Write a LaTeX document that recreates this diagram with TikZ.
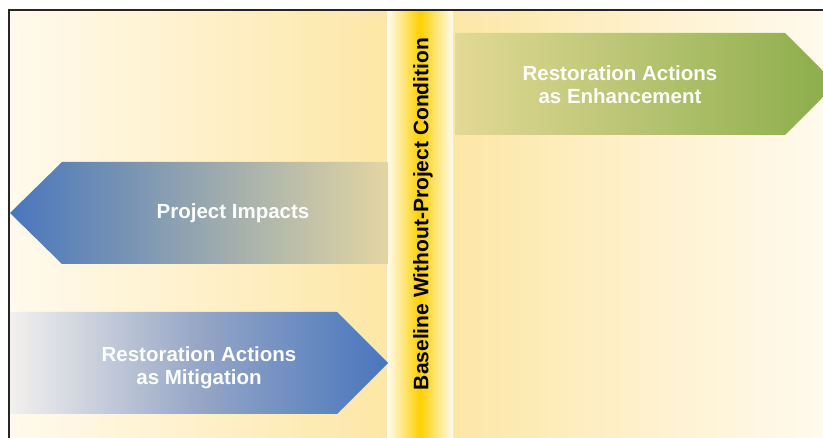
\documentclass[tikz,border=0pt]{standalone}
\usepackage{fontspec}
\setmainfont{Liberation Sans}
\usepackage{xcolor}
\usepackage{tikz}
\usetikzlibrary{positioning}
\definecolor{Cream}{RGB}{255,250,238}
\definecolor{PanelY}{RGB}{253,231,166}
\definecolor{StripW}{RGB}{255,251,240}
\definecolor{StripGold}{RGB}{255,208,0}
\definecolor{ImpBlue}{RGB}{72,118,189}
\definecolor{ImpTan}{RGB}{226,214,162}
\definecolor{MitPale}{RGB}{243,241,238}
\definecolor{MitMid}{RGB}{150,166,198}
\definecolor{EnhTan}{RGB}{226,217,150}
\definecolor{EnhGreen}{RGB}{138,173,74}
\tikzset{
  arrtext/.style={text=white,align=center,inner sep=0pt,
                  font=\bfseries\fontsize{20.5}{23}\selectfont},
  vtext/.style={text=black,rotate=90,inner sep=0pt,
                font=\bfseries\fontsize{21}{24}\selectfont},
  frame/.style={draw=black!85,line width=1.2pt},
}

\begin{document}
\begin{tikzpicture}[x=1pt,y=-1pt]
  \useasboundingbox (0,0) rectangle (823,438);
  \clip (0,0) rectangle (823,438);
  \fill[white] (0,0) rectangle (823,438);

  % panels either side of the baseline strip
  \shade[left color=Cream,right color=PanelY] (9,10) rectangle (388,438);
  \shade[left color=PanelY,right color=Cream] (452,10) rectangle (823,438);
  \shade[left color=StripW,right color=StripW,middle color=StripGold]
    (387,10) rectangle (453,438);

  % arrows
  \shade[left color=ImpBlue,right color=ImpTan]
    (62,162) -- (388,162) -- (388,264) -- (62,264) -- (10,213) -- cycle;
  \shade[left color=MitPale,right color=ImpBlue,middle color=MitMid]
    (9,312) -- (337,312) -- (388,363) -- (337,414) -- (9,414) -- cycle;
  \shade[left color=EnhTan,right color=EnhGreen]
    (455,33) -- (785,33) -- (836,84) -- (785,135) -- (455,135) -- cycle;

  \node[arrtext] (impacts) at (233,213) {Project Impacts};
  \node[arrtext] (mitig) at (199,368) {Restoration Actions\\as Mitigation};
  \node[arrtext] (enhance) at (620,85) {Restoration Actions\\as Enhancement};
  \node[vtext] (baseline) at (423,214) {Baseline Without-Project Condition};

  \draw[frame] (9,438) -- (9,10) -- (823,10);
\end{tikzpicture}
\end{document}
